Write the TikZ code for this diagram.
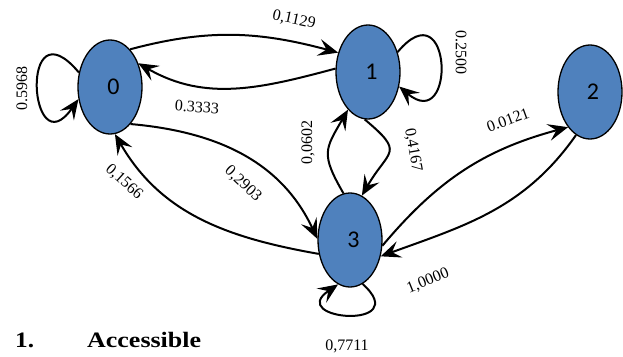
\documentclass[tikz,border=0pt]{standalone}
\usepackage{fontspec}
\usepackage{graphicx}
\setmainfont{Liberation Serif}
\newfontfamily\statefont{Carlito}
\usetikzlibrary{shapes.geometric,arrows.meta}
\definecolor{stateblue}{RGB}{79,129,189}

\begin{document}
\begin{tikzpicture}[x=1pt,y=1pt,>={Stealth[length=20pt,width=17pt,inset=8pt]},
                    state/.style={ellipse,draw=black,line width=1.3pt,fill=stateblue,
                                  minimum width=64pt,minimum height=94pt,inner sep=0pt,
                                  font=\statefont\fontsize{24}{28}\selectfont},
                    edge/.style={->,line width=2pt},
                    prob/.style={inner sep=1pt,font=\fontsize{16}{19}\selectfont}]
                        \useasboundingbox (0,0) rectangle (623,-356);

                        % states
                        \node[state] (s0) at (110,-87) {\hspace*{7pt}0};
                        \node[state] (s1) at (368,-72) {\hspace*{7pt}1};
                        \node[state] (s2) at (590,-92) {\hspace*{6pt}2};
                        \node[state] (s3) at (350,-240) {\hspace*{7pt}3};

                        % transitions
                        \draw[edge] (s0.62) to[out=15,in=165] (s1.147);
                        \draw[edge] (s1.174) to[out=195,in=-30] (s0.40);
                        \draw[edge] (s0.155) .. controls +(130:94) and +(235:86) .. (s0.201);
                        \draw[edge] (s1.34) .. controls +(50:85) and +(-40:75) .. (s1.-25);
                        \draw[edge] (s1.266) to[out=-40,in=60,looseness=1.8] (s3.75);
                        \draw[edge] (s3.98) to[out=120,in=240,looseness=1.4] (s1.242);
                        \draw[edge] (s0.-61) to[out=-5,in=115] (s3.178);
                        \draw[edge] (s3.204) to[out=170,in=-60] (s0.-84);
                        \draw[edge] (s3.-10) to[out=50,in=195] (s2.238);
                        \draw[edge] (s2.252) to[out=235,in=20] (s3.-28);
                        \draw[edge] (s3.-74) .. controls +(-42:70) and +(214:64) .. (s3.-105);

                        % probabilities
                        \node[prob,rotate=-12] (p01) at (294,-20) {0,1129};
                        \node[prob,rotate=-4] (p10) at (197,-107) {0.3333};
                        \node[prob,rotate=90] (p00) at (22,-88) {0.5968};
                        \node[prob,rotate=-90] (p11) at (461,-52) {0.2500};
                        \node[prob,rotate=90] (p31) at (308,-142) {0,0602};
                        \node[prob,rotate=-80] (p13) at (413,-150) {0,4167};
                        \node[prob,rotate=20] (p32) at (508,-120) {0.0121};
                        \node[prob,rotate=-42] (p30) at (124,-182) {0,1566};
                        \node[prob,rotate=-43] (p03) at (243,-184) {0,2903};
                        \node[prob,rotate=22] (p23) at (428,-281) {1,0000};
                        \node[prob] (p33) at (347,-346) {0,7711};

                        % heading
                        \node[anchor=base west,inner sep=0pt,font=\bfseries\fontsize{22}{26}\selectfont]
                             (num) at (15,-347) {\scalebox{1.15}[1]{1.}};
                        \node[anchor=base west,inner sep=0pt,font=\bfseries\fontsize{22}{26}\selectfont]
                             (head) at (87,-347) {\scalebox{1.18}[1]{Accessible}};
                    \end{tikzpicture}
\end{document}
